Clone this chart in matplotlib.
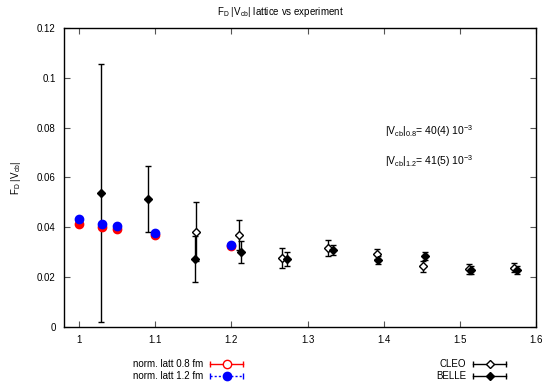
import matplotlib
matplotlib.use("Agg")
import matplotlib.pyplot as plt
from matplotlib.lines import Line2D
from matplotlib.ticker import FormatStrFormatter

plt.rcParams['font.family'] = ['Liberation Sans', 'DejaVu Sans']

# Lattice (normalised) points
latt_x = [1.00, 1.03, 1.05, 1.10, 1.20]
latt08_y = [0.0414, 0.0400, 0.0392, 0.0370, 0.0327]
latt12_y = [0.0432, 0.0412, 0.0404, 0.0376, 0.0329]

# CLEO
cleo_x = [1.153, 1.210, 1.266, 1.327, 1.391, 1.451, 1.512, 1.571]
cleo_y = [0.0383, 0.0368, 0.0276, 0.0318, 0.0294, 0.0243, 0.0233, 0.0238]
cleo_e = [0.0120, 0.0060, 0.0040, 0.0032, 0.0020, 0.0021, 0.0019, 0.0018]

# BELLE
belle_x = [1.029, 1.090, 1.152, 1.212, 1.273, 1.333, 1.392, 1.454, 1.515, 1.575]
belle_y = [0.0538, 0.0514, 0.0274, 0.0302, 0.0273, 0.0309, 0.0269, 0.0285, 0.0229, 0.0229]
belle_e = [0.0516, 0.0133, 0.0093, 0.0044, 0.0028, 0.0021, 0.0017, 0.0016, 0.0016, 0.0017]

x_ticks = [1.0, 1.1, 1.2, 1.3, 1.4, 1.5, 1.6]
y_ticks = [0, 0.02, 0.04, 0.06, 0.08, 0.10, 0.12]

fig = plt.figure(figsize=(5.46, 3.82), dpi=100)
ax = fig.add_axes([0.1172, 0.144, 0.9817 - 0.1172, 0.9267 - 0.144])

ax.errorbar(cleo_x, cleo_y, yerr=cleo_e, fmt='D', ms=4.2, mfc='white', mec='black',
            mew=1.0, ecolor='black', elinewidth=1.0, capsize=2.5, capthick=1.0, color='black', zorder=3)
ax.errorbar(belle_x, belle_y, yerr=belle_e, fmt='D', ms=4.2, mfc='black', mec='black',
            mew=1.0, ecolor='black', elinewidth=1.0, capsize=2.5, capthick=1.0, color='black', zorder=3)

ax.plot(latt_x, latt08_y, 'o', ms=6, mfc='red', mec='red', zorder=4)
ax.plot(latt_x, latt12_y, 'o', ms=6, mfc='blue', mec='blue', zorder=5)

ax.set_xlim(0.98, 1.6)
ax.set_ylim(0, 0.12)
ax.set_xticks(x_ticks)
ax.set_yticks(y_ticks)
ax.xaxis.set_major_formatter(FormatStrFormatter('%g'))
ax.yaxis.set_major_formatter(FormatStrFormatter('%g'))
ax.tick_params(direction='in', length=4, width=0.8, labelsize=7, top=True, right=True,
               color='#555555', pad=6)
for s in ax.spines.values():
    s.set_linewidth(1.0)

fig.text(280 / 546, 1 - 12 / 382, r'F$_\mathregular{D}$ |V$_\mathregular{cb}$| lattice vs experiment',
         fontsize=7, ha='center', va='center')
ax.set_ylabel(r'F$_\mathregular{D}$ |V$_\mathregular{cb}$|', fontsize=7, labelpad=10)

ax.text(1.401, 0.0785, r'|V$_\mathregular{cb}$|$_\mathregular{0.8}$= 40(4) 10$^\mathregular{-3}$', fontsize=7.5, va='center')
ax.text(1.401, 0.0665, r'|V$_\mathregular{cb}$|$_\mathregular{1.2}$= 41(5) 10$^\mathregular{-3}$', fontsize=7.5, va='center')

# Manual gnuplot-style key below
def key_entry(xr, x1, x2, ypix, label, color, ls, marker, mfc):
    yf = 1 - ypix / 382
    fig.text(xr / 546, yf, label, ha='right', va='center', fontsize=7)
    fig.add_artist(Line2D([x1 / 546, x2 / 546], [yf, yf], color=color, ls=ls, lw=1.0,
                          transform=fig.transFigure))
    for xe in (x1, x2):
        fig.add_artist(Line2D([xe / 546], [yf], marker='|', ms=4, color=color, mew=1.0,
                              transform=fig.transFigure))
    fig.add_artist(Line2D([(x1 + x2) / 2 / 546], [yf], marker=marker, ms=6 if marker == 'o' else 4.2,
                          mfc=mfc, mec=color, mew=1.0, color=color, transform=fig.transFigure))

key_entry(203, 210, 243, 364, 'norm. latt 0.8 fm', 'red', '-', 'o', 'white')
key_entry(203, 210, 243, 376, 'norm. latt 1.2 fm', 'blue', (0, (1.5, 1.5)), 'o', 'blue')
key_entry(466, 473, 506, 364, 'CLEO', 'black', '-', 'D', 'white')
key_entry(466, 473, 506, 376, 'BELLE', 'black', '-', 'D', 'black')

fig.savefig('out.png', dpi=100)
